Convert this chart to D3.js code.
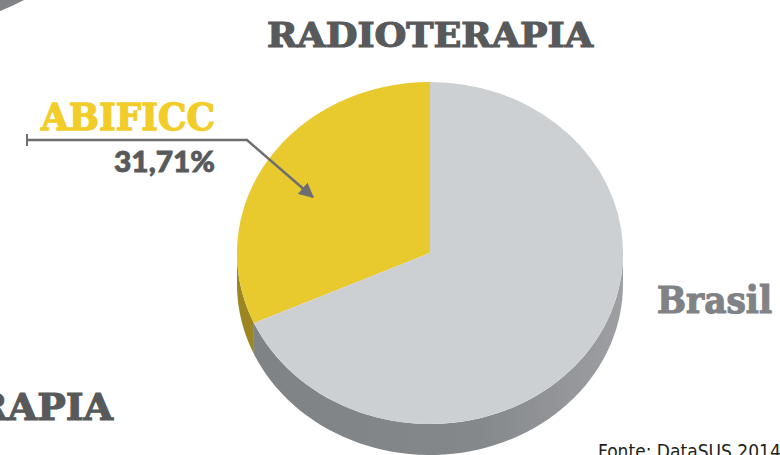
<!DOCTYPE html>
<html>
<head>
<meta charset="utf-8">
<script src="https://cdn.jsdelivr.net/npm/d3@7"></script>
<style>
  body { margin: 0; background: #fff; }
  .slab { font-family: "DejaVu Serif", "Liberation Serif", serif; font-weight: bold; }
</style>
</head>
<body>
<div class="chart"></div>
<script>
var width = 780;
var height = 455;

// data
var categories = ["ABIFICC", "Brasil"];
var shares = [31.71, 68.29];
var topColors = ["#e8c92e", "#cdd0d3"];
var sideColors = ["#9c8622", "#85888b"];

var cx = 430, cy = 253, rx = 193, ry = 171, depth = 31;

var svg = d3.select(".chart")
    .append("svg")
    .attr("width", width)
    .attr("height", height);

// decoration: corner of a ring from the neighbouring panel
svg.append("circle")
    .attr("cx", -92)
    .attr("cy", -222)
    .attr("r", 240)
    .attr("fill", "none")
    .attr("stroke", "#808285")
    .attr("stroke-width", 21);

var pie = d3.pie()
    .sort(null)
    .startAngle(-2 * Math.PI * shares[0] / 100)
    .endAngle(2 * Math.PI - 2 * Math.PI * shares[0] / 100);

var slices = pie(shares);

// point on the ellipse for a d3 angle (0 = top, clockwise)
function px(a) { return cx + rx * Math.sin(a); }
function py(a, dz) { return cy - ry * Math.cos(a) + (dz || 0); }

// side wall only for the front half (angles pi/2 .. 3pi/2)
function sidePath(d) {
    var a0 = d.startAngle, a1 = d.endAngle;
    var paths = [];
    [0, 2 * Math.PI, -2 * Math.PI].forEach(function(shift) {
        var s = Math.max(a0 + shift, Math.PI / 2);
        var e = Math.min(a1 + shift, 3 * Math.PI / 2);
        if (e <= s) return;
        var n = 60, pts = [], i, a;
        for (i = 0; i <= n; i++) {
            a = s + (e - s) * i / n;
            pts.push([px(a), py(a)]);
        }
        for (i = n; i >= 0; i--) {
            a = s + (e - s) * i / n;
            pts.push([px(a), py(a, depth)]);
        }
        paths.push("M" + pts.map(function(p) { return p.join(","); }).join("L") + "Z");
    });
    return paths.join("");
}

var defs = svg.append("defs");
var grad = defs.append("linearGradient")
    .attr("id", "graySide")
    .attr("x1", "0").attr("x2", "1").attr("y1", "0").attr("y2", "0");
grad.append("stop").attr("offset", "0").attr("stop-color", "#808386");
grad.append("stop").attr("offset", "0.6").attr("stop-color", "#85888b");
grad.append("stop").attr("offset", "1").attr("stop-color", "#9d9fa2");

svg.selectAll(".side")
    .data(slices)
    .enter().append("path")
    .attr("class", "side")
    .attr("d", sidePath)
    .attr("fill", function(d, i) { return i === 1 ? "url(#graySide)" : sideColors[i]; });

var arc = d3.arc().innerRadius(0).outerRadius(rx);

svg.append("g")
    .attr("transform", "translate(" + cx + "," + cy + ") scale(1," + (ry / rx) + ")")
    .selectAll(".slice")
    .data(slices)
    .enter().append("path")
    .attr("class", "slice")
    .attr("d", arc)
    .attr("fill", function(d, i) { return topColors[i]; });

// title
svg.append("text")
    .attr("class", "slab")
    .attr("x", cx)
    .attr("y", 47)
    .attr("text-anchor", "middle")
    .attr("font-size", 33)
    .attr("fill", "#58595b")
    .attr("stroke", "#58595b")
    .attr("stroke-width", 1.2)
    .attr("textLength", 326)
    .attr("lengthAdjust", "spacingAndGlyphs")
    .text("RADIOTERAPIA");

// cut-off title of the neighbouring panel
svg.append("text")
    .attr("class", "slab")
    .attr("x", 113)
    .attr("y", 420)
    .attr("text-anchor", "end")
    .attr("font-size", 38)
    .attr("fill", "#58595b")
    .attr("stroke", "#58595b")
    .attr("stroke-width", 1.2)
    .text("RAPIA");

// leader line with arrow
defs.append("marker")
    .attr("id", "arrow")
    .attr("viewBox", "0 0 10 10")
    .attr("refX", 9).attr("refY", 5)
    .attr("markerWidth", 6).attr("markerHeight", 6)
    .attr("orient", "auto")
    .append("path")
    .attr("d", "M0,0L10,5L0,10Z")
    .attr("fill", "#6d6e71");

var tipA = slices[0].startAngle + 0.46 * (slices[0].endAngle - slices[0].startAngle);
var tipX = cx + rx * 0.69 * Math.sin(tipA);
var tipY = cy - ry * 0.69 * Math.cos(tipA);
var line = d3.line();
svg.append("path")
    .attr("d", line([[27, 140], [247, 140], [tipX, tipY]]))
    .attr("fill", "none")
    .attr("stroke", "#6d6e71")
    .attr("stroke-width", 2.5)
    .attr("marker-end", "url(#arrow)");
svg.append("line")
    .attr("x1", 27).attr("x2", 27)
    .attr("y1", 134).attr("y2", 146)
    .attr("stroke", "#6d6e71")
    .attr("stroke-width", 2);

// labels
svg.append("text")
    .attr("class", "slab")
    .attr("x", 215)
    .attr("y", 130)
    .attr("text-anchor", "end")
    .attr("font-size", 37)
    .attr("fill", "#f2cd2a")
    .attr("stroke", "#f2cd2a")
    .attr("stroke-width", 1.3)
    .attr("textLength", 174)
    .attr("lengthAdjust", "spacingAndGlyphs")
    .text(categories[0]);

svg.append("text")
    .attr("x", 215)
    .attr("y", 172)
    .attr("text-anchor", "end")
    .attr("font-family", "Lato, 'Open Sans', sans-serif")
    .attr("font-weight", 900)
    .attr("font-size", 29)
    .attr("fill", "#58595b")
    .attr("stroke", "#58595b")
    .attr("stroke-width", 0.8)
    .attr("textLength", 101)
    .attr("lengthAdjust", "spacingAndGlyphs")
    .text(d3.format(".2f")(shares[0]).replace(".", ",") + "%");

svg.append("text")
    .attr("class", "slab")
    .attr("x", 657)
    .attr("y", 313)
    .attr("font-size", 38)
    .attr("fill", "#808285")
    .attr("stroke", "#808285")
    .attr("stroke-width", 1.2)
    .attr("textLength", 115)
    .attr("lengthAdjust", "spacingAndGlyphs")
    .text(categories[1]);

// source
svg.append("text")
    .attr("x", 598)
    .attr("y", 458)
    .attr("font-family", "'Liberation Sans Narrow', 'DejaVu Sans Condensed', sans-serif")
    .attr("font-size", 19)
    .attr("fill", "#231f20")
    .text("Fonte: DataSUS 2014");
</script>
</body>
</html>
